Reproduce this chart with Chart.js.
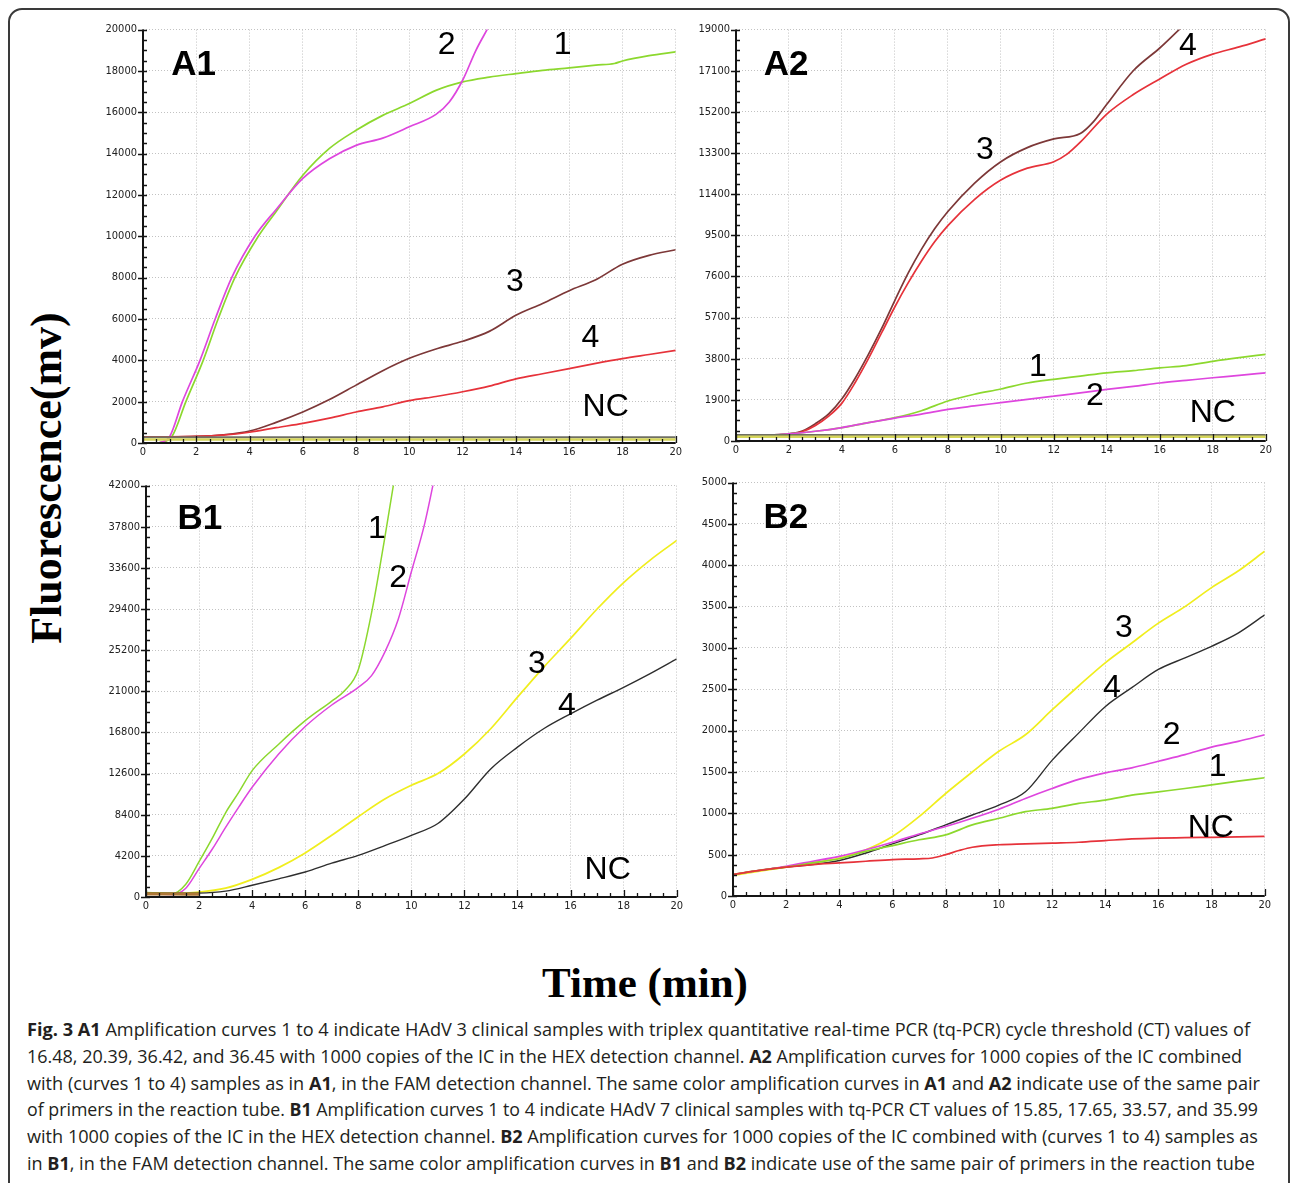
<!DOCTYPE html>
<html>
<head>
<meta charset="utf-8">
<script src="https://cdn.jsdelivr.net/npm/chart.js@4.4.1/dist/chart.umd.min.js"></script>
<style>
html,body{margin:0;padding:0;background:#fff;}
body{width:1292px;height:1183px;overflow:hidden;position:relative;}
#frame{position:absolute;left:8px;top:8px;width:1282px;height:1230px;border:2px solid #3a3a3a;border-radius:14px;box-sizing:border-box;}
canvas{position:absolute;}
#ylab{position:absolute;left:47px;top:478px;transform:translate(-50%,-50%) rotate(-90deg);font-weight:bold;font-size:44px;font-family:'Liberation Serif','Times New Roman',serif;line-height:44px;white-space:nowrap;color:#000;}
#xlab{position:absolute;left:645px;top:961px;transform:translateX(-50%);font-weight:bold;font-size:43px;font-family:'Liberation Serif','Times New Roman',serif;line-height:43px;white-space:nowrap;color:#000;}
#cap{position:absolute;left:27px;top:1016px;font-family:'Open Sans',sans-serif;font-size:18px;line-height:26.8px;color:#231f20;}
#cap div{white-space:nowrap;transform-origin:0 50%;width:max-content;}
#cap b{font-weight:700;}
</style>
</head>
<body>
<div id="frame"></div>
<div id="ylab">Fluorescence(mv)</div>
<div id="xlab">Time (min)</div>
<div id="cap">
<div data-r="1250"><b>Fig. 3 A1</b> Amplification curves 1 to 4 indicate HAdV 3 clinical samples with triplex quantitative real-time PCR (tq-PCR) cycle threshold (CT) values of</div>
<div data-r="1242">16.48, 20.39, 36.42, and 36.45 with 1000 copies of the IC in the HEX detection channel. <b>A2</b> Amplification curves for 1000 copies of the IC combined</div>
<div data-r="1260">with (curves 1 to 4) samples as in <b>A1</b>, in the FAM detection channel. The same color amplification curves in <b>A1</b> and <b>A2</b> indicate use of the same pair</div>
<div data-r="1258">of primers in the reaction tube. <b>B1</b> Amplification curves 1 to 4 indicate HAdV 7 clinical samples with tq-PCR CT values of 15.85, 17.65, 33.57, and 35.99</div>
<div data-r="1258">with 1000 copies of the IC in the HEX detection channel. <b>B2</b> Amplification curves for 1000 copies of the IC combined with (curves 1 to 4) samples as</div>
<div data-r="1255">in <b>B1</b>, in the FAM detection channel. The same color amplification curves in <b>B1</b> and <b>B2</b> indicate use of the same pair of primers in the reaction tube</div>
</div>
<script>
// ---------- tick labels ----------
const timeTicks = [0, 2, 4, 6, 8, 10, 12, 14, 16, 18, 20];
const a1Ticks = [0, 2000, 4000, 6000, 8000, 10000, 12000, 14000, 16000, 18000, 20000];
const a2Ticks = [0, 1900, 3800, 5700, 7600, 9500, 11400, 13300, 15200, 17100, 19000];
const b1Ticks = [0, 4200, 8400, 12600, 16800, 21000, 25200, 29400, 33600, 37800, 42000];
const b2Ticks = [0, 500, 1000, 1500, 2000, 2500, 3000, 3500, 4000, 4500, 5000];

// common time grid (min)
const minutes = [0, 1, 2, 3, 4, 5, 6, 7, 8, 9, 10, 11, 12, 13, 14, 15, 16, 17, 18, 19, 20];

// ---------- A1 (HEX) ----------
const a1Curve1X = [0.6, 1.08, 1.61, 2.26, 2.82, 3.45, 4.33, 5, 6, 7, 8, 9, 10, 11, 12, 13, 14, 15, 16, 17, 17.7, 18, 19, 20];
const a1Curve1Y = [0, 300, 2000, 4000, 6000, 8000, 10000, 11200, 12950, 14250, 15130, 15850, 16420, 17060, 17470, 17700, 17870, 18030, 18150, 18280, 18360, 18480, 18740, 18920];
const a1Curve2X = [0.6, 1.0, 1.48, 2.14, 2.71, 3.33, 4.2, 5, 6, 7, 8, 9, 10, 11, 11.5, 12, 12.5, 13, 13.5];
const a1Curve2Y = [0, 300, 2000, 4000, 6000, 8000, 10000, 11300, 12800, 13750, 14400, 14750, 15300, 15900, 16500, 17550, 19000, 20200, 21500];
const a1Curve3Y = [300, 300, 320, 400, 580, 1000, 1500, 2100, 2800, 3500, 4100, 4550, 4920, 5400, 6180, 6750, 7370, 7900, 8650, 9080, 9350];
const a1Curve4Y = [300, 300, 320, 380, 520, 740, 950, 1200, 1500, 1750, 2050, 2250, 2480, 2750, 3100, 3350, 3600, 3850, 4080, 4280, 4480];
const a1NcY = [280, 280, 280, 280, 280, 280, 280, 280, 280, 280, 280, 280, 280, 280, 280, 280, 280, 280, 280, 280, 280];
const a1NcBY = [170, 170, 170, 170, 170, 170, 170, 170, 170, 170, 170, 170, 170, 170, 170, 170, 170, 170, 170, 170, 170];

// ---------- A2 (FAM) ----------
const a2Curve3X = [0, 1, 2, 2.5, 3, 3.5, 4, 4.5, 5, 5.5, 6, 6.5, 7, 7.5, 8, 9, 10, 11, 12, 13, 13.5, 14, 15, 16, 17, 18];
const a2Curve3Y = [250, 250, 330, 460, 800, 1250, 1950, 2900, 4000, 5200, 6500, 7750, 8850, 9800, 10600, 11900, 12900, 13550, 13950, 14200, 14750, 15550, 17100, 18150, 19300, 20300];
const a2Curve4X = [0, 1, 2, 2.5, 3, 3.5, 4, 4.5, 5, 5.5, 6, 6.5, 7, 7.5, 8, 9, 10, 11, 12, 12.5, 13, 14, 15, 16, 17, 18, 19, 20];
const a2Curve4Y = [250, 250, 320, 430, 720, 1150, 1750, 2700, 3800, 5000, 6200, 7300, 8300, 9200, 9950, 11150, 12050, 12600, 12900, 13250, 13800, 15100, 16000, 16720, 17400, 17870, 18200, 18570];
const a2Curve1Y = [250, 260, 330, 450, 620, 850, 1080, 1400, 1850, 2160, 2400, 2680, 2850, 3000, 3150, 3250, 3380, 3480, 3680, 3850, 4000];
const a2Curve2Y = [250, 260, 330, 450, 620, 850, 1060, 1240, 1460, 1620, 1770, 1920, 2070, 2220, 2380, 2520, 2680, 2800, 2920, 3030, 3150];
const a2NcY = [280, 280, 280, 280, 280, 280, 280, 280, 280, 280, 280, 280, 280, 280, 280, 280, 280, 280, 280, 280, 280];
const a2NcBY = [200, 200, 200, 200, 200, 200, 200, 200, 200, 200, 200, 200, 200, 200, 200, 200, 200, 200, 200, 200, 200];

// ---------- B1 (HEX) ----------
const b1Curve1X = [0, 0.5, 1, 1.5, 2, 2.5, 3, 3.5, 4, 5, 6, 7, 7.5, 8, 8.5, 9, 9.5];
const b1Curve1Y = [450, 400, 350, 1300, 3600, 6000, 8600, 10700, 12900, 15600, 18000, 20000, 21100, 23200, 29000, 36700, 45000];
const b1Curve2X = [0, 0.5, 1, 1.5, 2, 2.5, 3, 3.5, 4, 5, 6, 7, 8, 8.5, 9, 9.5, 10, 10.5, 11];
const b1Curve2Y = [400, 300, 250, 900, 2900, 4900, 7100, 9200, 11200, 14600, 17400, 19600, 21400, 22600, 25000, 28300, 33200, 38100, 44500];
const b1Curve3Y = [400, 380, 500, 900, 1800, 3000, 4500, 6300, 8200, 10000, 11400, 12600, 14600, 17200, 20400, 23500, 26400, 29400, 32100, 34400, 36400];
const b1Curve4Y = [400, 380, 400, 600, 1200, 1850, 2550, 3450, 4250, 5250, 6300, 7500, 10000, 13100, 15300, 17200, 18700, 20100, 21400, 22800, 24300];
const b1NcX = [0, 1, 2];
const b1NcY = [300, 300, 280];

// ---------- B2 (FAM) ----------
const b2Curve3Y = [250, 300, 350, 400, 460, 560, 720, 960, 1240, 1500, 1750, 1950, 2250, 2540, 2820, 3060, 3300, 3500, 3730, 3930, 4170];
const b2Curve4Y = [260, 310, 350, 380, 430, 520, 630, 740, 860, 980, 1100, 1260, 1640, 1970, 2290, 2520, 2740, 2880, 3020, 3180, 3400];
const b2Curve2Y = [260, 310, 360, 420, 480, 560, 650, 750, 840, 940, 1050, 1180, 1300, 1410, 1490, 1550, 1630, 1710, 1800, 1870, 1950];
const b2Curve1Y = [260, 310, 350, 400, 450, 540, 610, 680, 740, 860, 940, 1020, 1060, 1120, 1160, 1220, 1260, 1300, 1345, 1390, 1430];
const b2NcX = [0, 1, 2, 3, 4, 5, 6, 7, 7.5, 8, 8.5, 9, 10, 11, 12, 13, 14, 15, 16, 17, 18, 19, 20];
const b2NcY = [260, 310, 350, 380, 400, 420, 440, 450, 460, 500, 550, 590, 620, 630, 640, 650, 670, 690, 700, 705, 710, 715, 720];

// ---------- colours ----------
const GREEN = '#8cd82e', MAGENTA = '#de46de', MAROON = '#7d3838', RED = '#e6323a',
      YELLOW = '#f0ee1e', BLACK = '#2e2e2e', NCGRAY = '#707064', NCYEL = '#d6d65a', NCBROWN = '#b07838';

function pts(xs, ys) { return xs.map((x, i) => ({ x: x, y: ys[i] })); }
function ds(xs, ys, color, w) {
  return { data: pts(xs, ys), borderColor: color, borderWidth: w || 1.7, pointRadius: 0,
           cubicInterpolationMode: 'monotone', fill: false };
}

const panels = [
  { box: { l: 143, t: 30, w: 533, h: 413 }, yTicks: a1Ticks,
    datasets: () => [
      ds(minutes, a1NcBY, NCYEL, 2.5), ds(minutes, a1NcY, NCGRAY, 2),
      ds(minutes, a1Curve4Y, RED), ds(minutes, a1Curve3Y, MAROON),
      ds(a1Curve2X, a1Curve2Y, MAGENTA), ds(a1Curve1X, a1Curve1Y, GREEN)],
    notes: [{ t: 'A1', x: 1.9, y: 18260, b: true }, { t: '2', x: 11.4, y: 19270 }, { t: '1', x: 15.76, y: 19270 },
            { t: '3', x: 13.96, y: 7800 }, { t: '4', x: 16.8, y: 5080 }, { t: 'NC', x: 17.37, y: 1740 }] },
  { box: { l: 736, t: 30, w: 530, h: 411 }, yTicks: a2Ticks,
    datasets: () => [
      ds(minutes, a2NcBY, NCYEL, 2.5), ds(minutes, a2NcY, NCGRAY, 2),
      ds(minutes, a2Curve2Y, MAGENTA), ds(minutes, a2Curve1Y, GREEN),
      ds(a2Curve4X, a2Curve4Y, RED), ds(a2Curve3X, a2Curve3Y, MAROON)],
    notes: [{ t: 'A2', x: 1.89, y: 17340, b: true }, { t: '4', x: 17.06, y: 18220 }, { t: '3', x: 9.4, y: 13450 },
            { t: '1', x: 11.4, y: 3420 }, { t: '2', x: 13.55, y: 2080 }, { t: 'NC', x: 18.0, y: 1290 }] },
  { box: { l: 146, t: 486, w: 531, h: 411 }, yTicks: b1Ticks,
    datasets: () => [
      ds(b1NcX, b1NcY, NCBROWN, 3),
      ds(minutes, b1Curve4Y, BLACK, 1.4), ds(minutes, b1Curve3Y, YELLOW),
      ds(b1Curve2X, b1Curve2Y, MAGENTA, 1.5), ds(b1Curve1X, b1Curve1Y, GREEN, 1.5)],
    notes: [{ t: 'B1', x: 2.03, y: 38520, b: true }, { t: '1', x: 8.7, y: 37600 }, { t: '2', x: 9.5, y: 32600 },
            { t: '3', x: 14.73, y: 23800 }, { t: '4', x: 15.86, y: 19520 }, { t: 'NC', x: 17.4, y: 2760 }] },
  { box: { l: 733, t: 483, w: 532, h: 413 }, yTicks: b2Ticks,
    datasets: () => [
      ds(b2NcX, b2NcY, RED), ds(minutes, b2Curve1Y, GREEN), ds(minutes, b2Curve2Y, MAGENTA),
      ds(minutes, b2Curve4Y, BLACK, 1.4), ds(minutes, b2Curve3Y, YELLOW)],
    notes: [{ t: 'B2', x: 1.99, y: 4564, b: true }, { t: '3', x: 14.7, y: 3245 }, { t: '4', x: 14.25, y: 2518 },
            { t: '2', x: 16.5, y: 1950 }, { t: '1', x: 18.23, y: 1562 }, { t: 'NC', x: 17.97, y: 823 }] }
];

const tickFont = { family: "'DejaVu Sans Condensed', 'DejaVu Sans', sans-serif", size: 11 };

function makeDeco(p) {
  return {
    id: 'deco',
    afterDatasetsDraw(chart) {
      const ctx = chart.ctx, a = chart.chartArea, xs = chart.scales.x, ys = chart.scales.y;
      ctx.save();
      ctx.strokeStyle = '#151515';
      ctx.lineWidth = 1.3;
      ctx.beginPath();
      const xMax = timeTicks[timeTicks.length - 1];
      for (let k = 0; k <= xMax * 2; k++) {
        const px = Math.round(xs.getPixelForValue(k / 2)) + 0.5;
        const len = (k % 4 === 0) ? 7 : 4;
        ctx.moveTo(px, a.bottom); ctx.lineTo(px, a.bottom - len);
      }
      const t = p.yTicks, step = (t[1] - t[0]) / 4;
      for (let k = 0; k <= 4 * (t.length - 1); k++) {
        const py = Math.round(ys.getPixelForValue(t[0] + k * step)) + 0.5;
        if (k % 4 === 0) { ctx.moveTo(a.left - 5, py); ctx.lineTo(a.left + 4, py); }
        else { ctx.moveTo(a.left, py); ctx.lineTo(a.left + 4, py); }
      }
      ctx.stroke();
      ctx.lineWidth = 2;
      ctx.beginPath();
      ctx.moveTo(a.left, a.top); ctx.lineTo(a.left, a.bottom); ctx.lineTo(a.right, a.bottom);
      ctx.stroke();
      ctx.fillStyle = '#000';
      ctx.textAlign = 'center';
      ctx.textBaseline = 'middle';
      for (const n of p.notes) {
        ctx.font = n.b ? "bold 35px 'Liberation Sans', Arial, sans-serif" : "32px 'Liberation Sans', Arial, sans-serif";
        ctx.fillText(n.t, xs.getPixelForValue(n.x), ys.getPixelForValue(n.y));
      }
      ctx.restore();
    }
  };
}

function config(p) {
  return {
    type: 'line',
    data: { datasets: p.datasets() },
    options: {
      responsive: false, animation: false, events: [],
      layout: { padding: 0 },
      plugins: { legend: { display: false }, tooltip: { enabled: false } },
      scales: {
        x: {
          type: 'linear', min: timeTicks[0], max: timeTicks[timeTicks.length - 1],
          afterBuildTicks: s => { s.ticks = timeTicks.map(v => ({ value: v })); },
          afterFit: s => { s.height = 22; },
          ticks: { font: tickFont, color: '#222', padding: 3, maxRotation: 0, autoSkip: false, callback: v => String(v) },
          grid: { color: '#c2c2c2', lineWidth: 1, drawTicks: false },
          border: { display: false, dash: [1, 2] }
        },
        y: {
          type: 'linear', min: p.yTicks[0], max: p.yTicks[p.yTicks.length - 1],
          afterBuildTicks: s => { s.ticks = p.yTicks.map(v => ({ value: v })); },
          afterFit: s => { s.width = 52; },
          ticks: { font: tickFont, color: '#222', padding: 6, autoSkip: false, callback: v => String(v) },
          grid: { color: '#c2c2c2', lineWidth: 1, drawTicks: false },
          border: { display: false, dash: [1, 2] }
        }
      }
    },
    plugins: [makeDeco(p)]
  };
}

function buildPanel(p) {
  const canvas = document.createElement('canvas');
  document.body.appendChild(canvas);
  let W = p.box.w + 64, H = p.box.h + 36;
  canvas.width = W; canvas.height = H;
  canvas.style.width = W + 'px'; canvas.style.height = H + 'px';
  let chart = new Chart(canvas, config(p));
  let ca = chart.chartArea;
  const dw = Math.round(p.box.w - (ca.right - ca.left));
  const dh = Math.round(p.box.h - (ca.bottom - ca.top));
  if (dw !== 0 || dh !== 0) {
    chart.destroy();
    W += dw; H += dh;
    canvas.width = W; canvas.height = H;
    canvas.style.width = W + 'px'; canvas.style.height = H + 'px';
    chart = new Chart(canvas, config(p));
    ca = chart.chartArea;
  }
  canvas.style.left = Math.round(p.box.l - ca.left) + 'px';
  canvas.style.top = Math.round(p.box.t - ca.top) + 'px';
}

panels.forEach(buildPanel);

function fitCaption() {
  document.querySelectorAll('#cap div').forEach(d => {
    d.style.transform = 'none';
    const w = d.getBoundingClientRect().width;
    const target = parseFloat(d.dataset.r) - 27;
    d.style.transform = 'scaleX(' + (target / w) + ')';
  });
}
fitCaption();
if (document.fonts && document.fonts.ready) document.fonts.ready.then(fitCaption);
</script>
</body>
</html>
